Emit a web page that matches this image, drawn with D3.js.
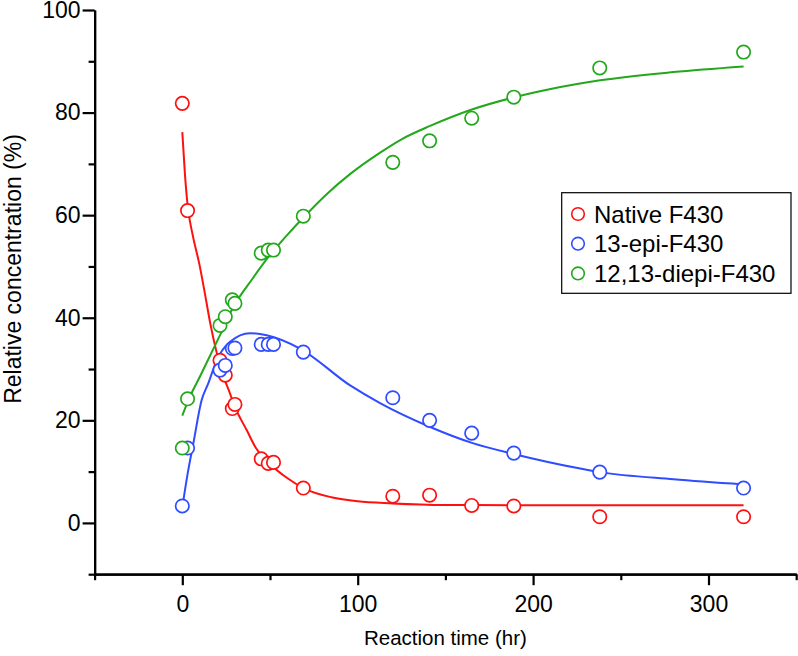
<!DOCTYPE html>
<html>
<head>
<meta charset="utf-8">
<script src="https://cdn.jsdelivr.net/npm/d3@7"></script>
<style>
  html, body { margin: 0; padding: 0; background: #fff; }
  svg { display: block; }
  text { font-family: Arial, "Liberation Sans", sans-serif; fill: #000; }
</style>
</head>
<body>
<svg id="chart" width="798" height="656"></svg>
<script>
// ---- data ----
const seriesNames = ["Native F430", "13-epi-F430", "12,13-diepi-F430"];
const times = [0, 3, 21.5, 24.5, 28.5, 30, 45, 49, 52, 69, 120, 141, 165, 189, 238, 320];
const nativeVals = [81.8, 60.9, 31.7, 28.8, 22.3, 23.1, 12.5, 11.6, 11.8, 6.8, 5.2, 5.4, 3.4, 3.3, 1.2, 1.2];
const epiVals    = [3.3, 14.6, 29.8, 30.7, 34.0, 34.1, 34.8, 34.8, 34.8, 33.3, 24.4, 20.0, 17.5, 13.6, 9.9, 6.8];
const diepiVals  = [14.6, 24.2, 38.5, 40.2, 43.5, 42.8, 52.6, 53.2, 53.2, 59.8, 70.3, 74.5, 78.9, 83.0, 88.7, 91.8];

// fitted curves
const fitNativeT = [0, 1.5, 3, 6, 9.7, 13, 16, 19.6, 23, 26.8, 30, 36.7, 42, 50, 60, 69, 85, 100, 120, 150, 200, 260, 320];
const fitNativeY = [76.2, 68.0, 62.0, 56.0, 50.5, 44.5, 38.8, 33.2, 29.0, 25.6, 22.6, 18.1, 14.6, 11.5, 8.7, 6.8, 5.0, 4.2, 3.8, 3.5, 3.45, 3.45, 3.45];
const fitEpiT = [0, 3, 6.3, 11, 14.8, 19.6, 27.2, 38.6, 48.1, 67.1, 95.7, 113, 141.3, 166, 189.4, 226.9, 238.3, 280, 320];
const fitEpiY = [3.0, 9.5, 15.5, 23.9, 27.2, 31.7, 35.3, 37.0, 36.6, 34.0, 26.8, 23.3, 18.7, 15.5, 13.4, 10.6, 9.9, 8.5, 7.5];
const fitDiepiT = [0, 3.4, 10, 21.5, 29.1, 40, 49, 60, 69.2, 82, 95.6, 112.8, 125, 141.3, 165.1, 189.4, 210, 238.3, 280, 320];
const fitDiepiY = [20.9, 23.9, 28.5, 36.6, 42.1, 47.6, 51.8, 56.2, 59.6, 64.0, 68.0, 72.2, 74.8, 77.4, 80.6, 83.0, 84.6, 86.3, 87.9, 89.0];

const xMajorTicks = [0, 100, 200, 300];
const xMinorTicks = [-50, 50, 150, 250, 350];
const yMajorTicks = [0, 20, 40, 60, 80, 100];
const yMinorTicks = [-10, 10, 30, 50, 70, 90];
const colors = ["#ff1010", "#2f4cff", "#22a81a"];

// ---- drawing ----
const svg = d3.select("#chart");
const x = d3.scaleLinear().domain([-50, 350]).range([94.6, 796.2]);
const y = d3.scaleLinear().domain([-10, 100]).range([574.2, 10]);

const series = [
  { name: seriesNames[0], vals: nativeVals, ft: fitNativeT, fy: fitNativeY, color: colors[0] },
  { name: seriesNames[1], vals: epiVals, ft: fitEpiT, fy: fitEpiY, color: colors[1] },
  { name: seriesNames[2], vals: diepiVals, ft: fitDiepiT, fy: fitDiepiY, color: colors[2] }
];

// axes
function styleAxis(g) {
  g.select(".domain").attr("stroke", "#000").attr("stroke-width", 2.2);
  g.selectAll(".tick line").attr("stroke", "#000").attr("stroke-width", 2.2);
  g.selectAll(".tick text").style("font-size", "23px").style("font-family", "Arial, 'Liberation Sans', sans-serif");
}
const yBase = y(-10);
const xBase = x(-50);

const gxMinor = svg.append("g").attr("transform", `translate(0,${yBase})`)
  .call(d3.axisBottom(x).tickValues(xMinorTicks).tickSize(6).tickFormat("").tickSizeOuter(0));
styleAxis(gxMinor);
const gx = svg.append("g").attr("transform", `translate(0,${yBase})`)
  .call(d3.axisBottom(x).tickValues(xMajorTicks).tickSize(11).tickPadding(10).tickFormat(d3.format("d")).tickSizeOuter(0));
styleAxis(gx);

const gyMinor = svg.append("g").attr("transform", `translate(${xBase},0)`)
  .call(d3.axisLeft(y).tickValues(yMinorTicks).tickSize(6).tickFormat("").tickSizeOuter(0));
styleAxis(gyMinor);
const gy = svg.append("g").attr("transform", `translate(${xBase},0)`)
  .call(d3.axisLeft(y).tickValues(yMajorTicks).tickSize(12).tickPadding(2).tickFormat(d3.format("d")).tickSizeOuter(0));
styleAxis(gy);

// axis titles
svg.append("text")
  .attr("x", x(150)).attr("y", 645)
  .attr("text-anchor", "middle")
  .style("font-size", "20.5px")
  .text("Reaction time (hr)");
svg.append("text")
  .attr("transform", `translate(21,${269}) rotate(-90)`)
  .attr("text-anchor", "middle")
  .style("font-size", "23px")
  .text("Relative concentration (%)");

// curves and points
const line = d3.line().x(d => x(d[0])).y(d => y(d[1])).curve(d3.curveMonotoneX);
series.forEach(s => {
  const pts = s.ft.map((t, i) => [t, s.fy[i]]);
  svg.append("path").datum(pts)
    .attr("d", line)
    .attr("fill", "none")
    .attr("stroke", s.color)
    .attr("stroke-width", 2);
});
series.forEach(s => {
  svg.append("g").selectAll("circle")
    .data(times.map((t, i) => [t, s.vals[i]]))
    .join("circle")
    .attr("cx", d => x(d[0]))
    .attr("cy", d => y(d[1]))
    .attr("r", 6.7)
    .attr("fill", "#fff")
    .attr("stroke", s.color)
    .attr("stroke-width", 1.7);
});

// legend
const lg = svg.append("g");
lg.append("rect")
  .attr("x", 561.7).attr("y", 192.7).attr("width", 229.3).attr("height", 100.6)
  .attr("fill", "#fff").attr("stroke", "#000").attr("stroke-width", 1.2);
series.forEach((s, i) => {
  const cy = 214 + i * 29.7;
  lg.append("circle").attr("cx", 578).attr("cy", cy).attr("r", 6.3)
    .attr("fill", "none").attr("stroke", s.color).attr("stroke-width", 1.6);
  lg.append("text").attr("x", 594).attr("y", cy + 8.5)
    .style("font-size", "24px").text(s.name);
});
</script>
</body>
</html>
